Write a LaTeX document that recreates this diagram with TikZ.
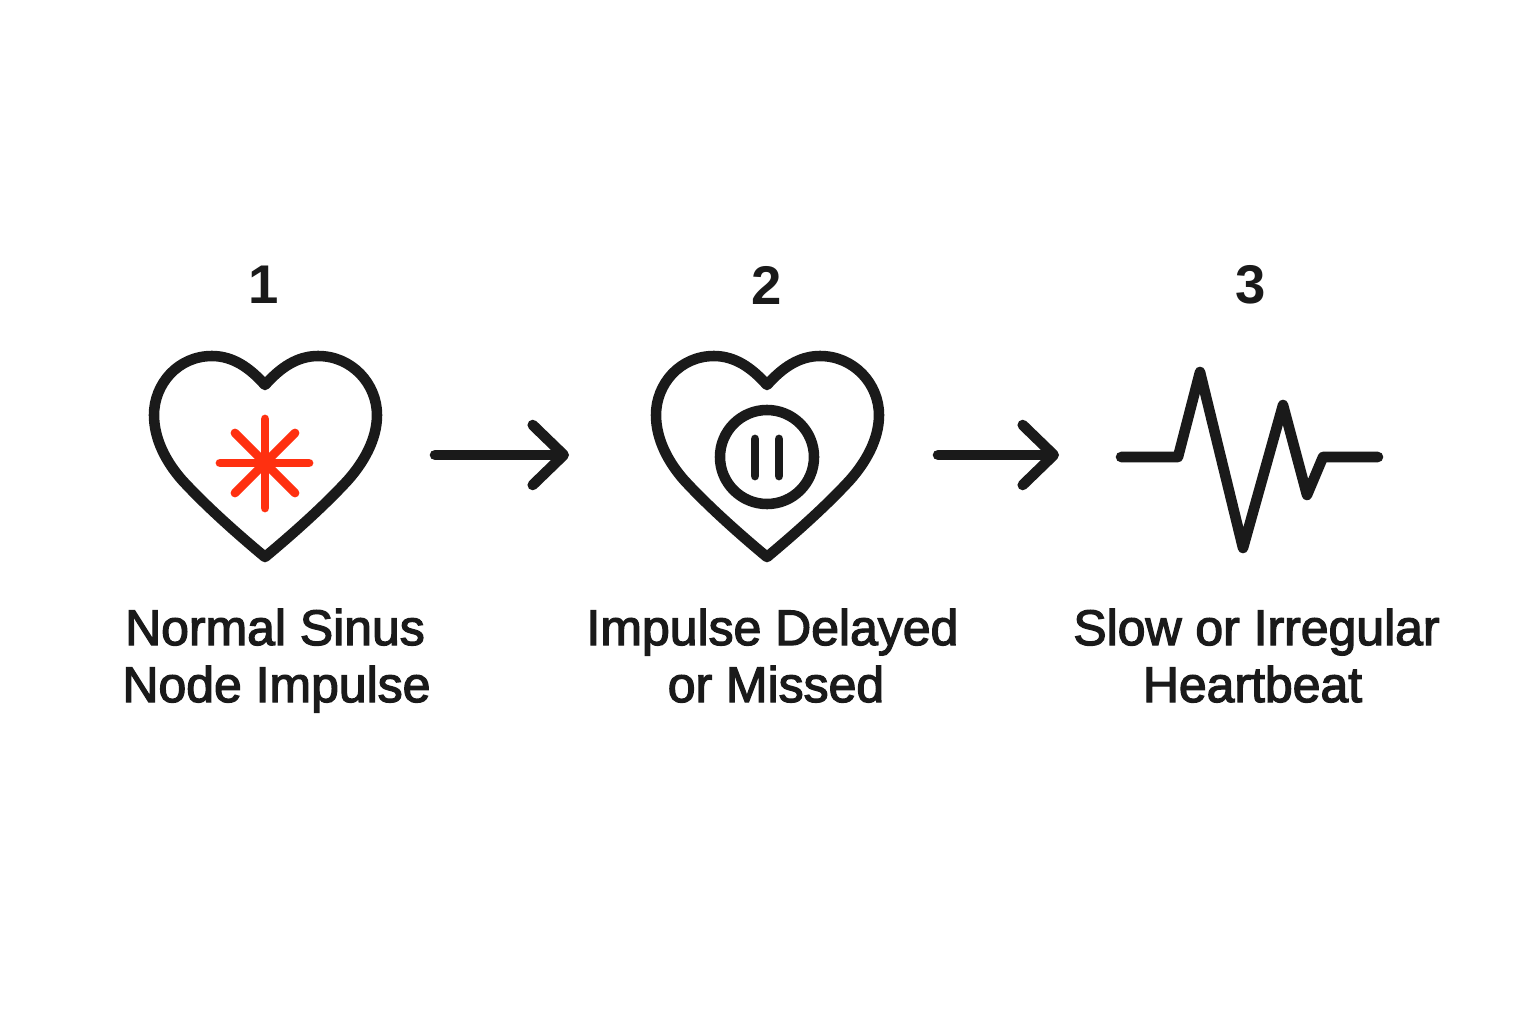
\documentclass[tikz,border=0pt]{standalone}
\usepackage{fontspec}
\setmainfont{Liberation Sans}
\newfontfamily\labelfont[FakeBold=2.6]{Liberation Sans}
\usetikzlibrary{arrows.meta,positioning}

\begin{document}
\begin{tikzpicture}[x=0.01cm,y=-0.01cm,
        iconline/.style={line width=3pt, draw=inkblack, line cap=round, line join=round},
        flowarrow/.style={iconline, -{Straight Barb[length=0.31cm,width=0.6cm,round]}},
        sparkline/.style={line width=2.5pt, draw=sparkred, line cap=round},
        stepnum/.style={text=inkblack, font={\fontsize{15.5pt}{18pt}\selectfont\bfseries}},
        steplabel/.style={text=inkblack, anchor=base, font={\labelfont\fontsize{14.2pt}{16.2pt}\selectfont}}]
          \definecolor{inkblack}{HTML}{1A1A1A}
          \definecolor{sparkred}{HTML}{FF3010}
          \useasboundingbox (0,0) rectangle (1536,1024);

          %draw hearts
          \foreach \hx in {265,767}
            \draw[iconline] (\hx,385) .. controls (\hx-15,368) and (\hx-32,356) .. (\hx-53,356)
              .. controls (\hx-87,356) and (\hx-111,384) .. (\hx-111,415)
              .. controls (\hx-111,440) and (\hx-98,463) .. (\hx-83,480)
              .. controls (\hx-60,505) and (\hx-30,532) .. (\hx,557)
              .. controls (\hx+30,532) and (\hx+60,505) .. (\hx+83,480)
              .. controls (\hx+98,463) and (\hx+112,440) .. (\hx+112,415)
              .. controls (\hx+112,384) and (\hx+87,356) .. (\hx+53,356)
              .. controls (\hx+32,356) and (\hx+15,368) .. (\hx,385) -- cycle;

          %draw spark
          \draw[sparkline] (265,419) -- (265,508);
          \draw[sparkline] (220,463) -- (309,463);
          \draw[sparkline] (235,433) -- (295,493);
          \draw[sparkline] (235,493) -- (295,433);

          %draw pause symbol
          \draw[iconline] (767,457) circle (47);
          \draw[sparkline, draw=inkblack] (755,439) -- (755,476);
          \draw[sparkline, draw=inkblack] (779,439) -- (779,476);

          %draw heartbeat trace
          \draw[iconline] (1121,457) -- (1178,457) -- (1200,372) -- (1243,548)
            -- (1283,405) -- (1307,495) -- (1323,457) -- (1378,457);

          %draw arrows
          \coordinate (arrowAstart) at (435,455);
          \coordinate (arrowAend) at (569,455);
          \coordinate (arrowBstart) at (938,455);
          \coordinate (arrowBend) at (1059,455);
          \draw[flowarrow] (arrowAstart) -- (arrowAend);
          \draw[flowarrow] (arrowBstart) -- (arrowBend);

          %step numbers and labels
          \node[stepnum] (numA) at (264,285) {1};
          \node[stepnum] (numB) at (767,285) {2};
          \node[stepnum] (numC) at (1251,285) {3};
          \node[steplabel] (labelAtop) at (275,645) {Normal Sinus};
          \node[steplabel] (labelAbot) at (276.5,702) {Node Impulse};
          \node[steplabel] (labelBtop) at (772.5,645) {Impulse Delayed};
          \node[steplabel] (labelBbot) at (776,702) {or Missed};
          \node[steplabel] (labelCtop) at (1256.5,645) {Slow or Irregular};
          \node[steplabel] (labelCbot) at (1252.5,702) {Heartbeat};
\end{tikzpicture}
\end{document}
